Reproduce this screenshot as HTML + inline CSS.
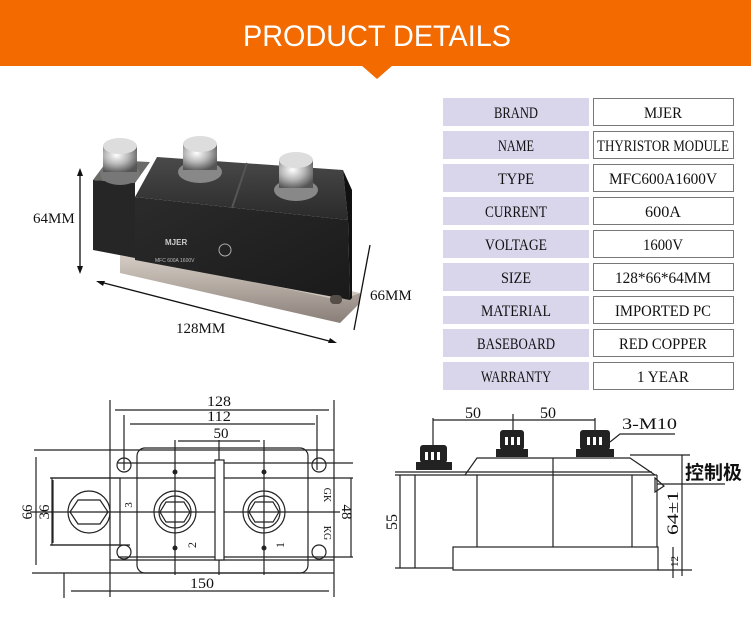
<!DOCTYPE html>
<html><head><meta charset="utf-8"><style>
html,body{margin:0;padding:0;background:#fff;}
svg{display:block}
</style></head><body>
<svg width="751" height="624" viewBox="0 0 751 624" xmlns="http://www.w3.org/2000/svg">
<defs>
<linearGradient id="top" x1="0" y1="0" x2="0" y2="1"><stop offset="0" stop-color="#4a4a4a"/><stop offset="1" stop-color="#2a2a2a"/></linearGradient>
<linearGradient id="front" x1="0" y1="0" x2="1" y2="1"><stop offset="0" stop-color="#2b2b2b"/><stop offset="1" stop-color="#1a1a1a"/></linearGradient>
<linearGradient id="base" x1="0" y1="0" x2="0" y2="1"><stop offset="0" stop-color="#d8d0c8"/><stop offset="1" stop-color="#8a7f78"/></linearGradient>
<radialGradient id="bolt" cx="0.4" cy="0.35" r="0.7"><stop offset="0" stop-color="#fff"/><stop offset="0.5" stop-color="#b8b8b8"/><stop offset="1" stop-color="#555"/></radialGradient>
</defs>
<rect x="0" y="0" width="751" height="66" fill="#F26A00"/>
<polygon points="361,65 393,65 377,79" fill="#F26A00"/>
<text x="377" y="46" font-family="Liberation Sans, sans-serif" font-size="30" fill="#fff" text-anchor="middle" textLength="268" lengthAdjust="spacingAndGlyphs">PRODUCT  DETAILS</text>

<g font-family="Liberation Serif, serif" font-size="16" fill="#111" text-anchor="middle">
<rect x="443" y="98" width="146" height="28" fill="#D9D6EC"/><rect x="593.5" y="98.5" width="140" height="27" fill="#fff" stroke="#777"/>
<text x="516" y="118" textLength="44" lengthAdjust="spacingAndGlyphs">BRAND</text><text x="663" y="118" textLength="38" lengthAdjust="spacingAndGlyphs">MJER</text>
<rect x="443" y="131" width="146" height="28" fill="#D9D6EC"/><rect x="593.5" y="131.5" width="140" height="27" fill="#fff" stroke="#777"/>
<text x="516" y="151" textLength="36" lengthAdjust="spacingAndGlyphs">NAME</text><text x="663" y="151" textLength="132" lengthAdjust="spacingAndGlyphs">THYRISTOR MODULE</text>
<rect x="443" y="164" width="146" height="28" fill="#D9D6EC"/><rect x="593.5" y="164.5" width="140" height="27" fill="#fff" stroke="#777"/>
<text x="516" y="184" textLength="36" lengthAdjust="spacingAndGlyphs">TYPE</text><text x="663" y="184" textLength="108" lengthAdjust="spacingAndGlyphs">MFC600A1600V</text>
<rect x="443" y="197" width="146" height="28" fill="#D9D6EC"/><rect x="593.5" y="197.5" width="140" height="27" fill="#fff" stroke="#777"/>
<text x="516" y="217" textLength="62" lengthAdjust="spacingAndGlyphs">CURRENT</text><text x="663" y="217" textLength="36" lengthAdjust="spacingAndGlyphs">600A</text>
<rect x="443" y="230" width="146" height="28" fill="#D9D6EC"/><rect x="593.5" y="230.5" width="140" height="27" fill="#fff" stroke="#777"/>
<text x="516" y="250" textLength="62" lengthAdjust="spacingAndGlyphs">VOLTAGE</text><text x="663" y="250" textLength="40" lengthAdjust="spacingAndGlyphs">1600V</text>
<rect x="443" y="263" width="146" height="28" fill="#D9D6EC"/><rect x="593.5" y="263.5" width="140" height="27" fill="#fff" stroke="#777"/>
<text x="516" y="283" textLength="30" lengthAdjust="spacingAndGlyphs">SIZE</text><text x="663" y="283" textLength="96" lengthAdjust="spacingAndGlyphs">128*66*64MM</text>
<rect x="443" y="296" width="146" height="28" fill="#D9D6EC"/><rect x="593.5" y="296.5" width="140" height="27" fill="#fff" stroke="#777"/>
<text x="516" y="316" textLength="70" lengthAdjust="spacingAndGlyphs">MATERIAL</text><text x="663" y="316" textLength="96" lengthAdjust="spacingAndGlyphs">IMPORTED PC</text>
<rect x="443" y="329" width="146" height="28" fill="#D9D6EC"/><rect x="593.5" y="329.5" width="140" height="27" fill="#fff" stroke="#777"/>
<text x="516" y="349" textLength="78" lengthAdjust="spacingAndGlyphs">BASEBOARD</text><text x="663" y="349" textLength="88" lengthAdjust="spacingAndGlyphs">RED COPPER</text>
<rect x="443" y="362" width="146" height="28" fill="#D9D6EC"/><rect x="593.5" y="362.5" width="140" height="27" fill="#fff" stroke="#777"/>
<text x="516" y="382" textLength="70" lengthAdjust="spacingAndGlyphs">WARRANTY</text><text x="663" y="382" textLength="52" lengthAdjust="spacingAndGlyphs">1 YEAR</text>
</g>

<g>
<polygon points="120,253 340,300 360,293 360,303 340,323 120,273" fill="url(#base)"/>
<polygon points="120,253 140,245 360,293 340,300" fill="#cfc6bd"/>
<polygon points="93,180 135,183 135,258 93,250" fill="#262626"/>
<polygon points="93,180 108,160 150,162 135,183" fill="#6a6a66"/>
<polygon points="135,197 157,157 343,170 348,220" fill="url(#top)"/>
<polygon points="135,197 348,220 350,300 135,260" fill="url(#front)"/>
<polygon points="348,220 343,170 352,190 352,298 350,300" fill="#111"/>
<line x1="247" y1="163" x2="232" y2="208" stroke="#555" stroke-width="2"/>
<rect x="330" y="295" width="12" height="9" rx="4" fill="#554d48"/>
<text x="165" y="245" font-family="Liberation Sans,sans-serif" font-size="8" font-weight="bold" fill="#ccc">MJER</text>
<text x="155" y="262" font-family="Liberation Sans,sans-serif" font-size="5" fill="#bbb">MFC 600A 1600V</text>
<circle cx="225" cy="250" r="6" fill="none" stroke="#aaa"/>
<ellipse cx="120" cy="174" rx="20" ry="11" fill="#777"/><rect x="103" y="146" width="34" height="26" fill="url(#bolt)"/><ellipse cx="120" cy="146" rx="17" ry="8" fill="#ddd"/>
<ellipse cx="200" cy="172" rx="22" ry="11" fill="#888"/><rect x="183" y="144" width="34" height="26" fill="url(#bolt)"/><ellipse cx="200" cy="144" rx="17" ry="8" fill="#ddd"/>
<ellipse cx="296" cy="190" rx="22" ry="11" fill="#888"/><rect x="279" y="160" width="34" height="28" fill="url(#bolt)"/><ellipse cx="296" cy="160" rx="17" ry="8" fill="#ddd"/>
</g>
<g stroke="#111" stroke-width="1.3" fill="#111">
<line x1="80" y1="172" x2="80" y2="270"/><polygon points="80,168 77,176 83,176" stroke="none"/><polygon points="80,274 77,266 83,266" stroke="none"/>
<line x1="100" y1="282" x2="333" y2="342"/><polygon points="96,281 105,281 103,286" stroke="none"/><polygon points="337,343 328,343 330,338" stroke="none"/>
<line x1="370" y1="245" x2="354" y2="330"/>
</g>
<g font-family="Liberation Serif, serif" font-size="15" fill="#111">
<text x="33" y="223">64MM</text>
<text x="370" y="300">66MM</text>
<text x="176" y="333">128MM</text>
</g>

<g stroke="#222" stroke-width="1.2" fill="none">
<line x1="110" y1="400" x2="110" y2="597"/><line x1="334" y1="400" x2="334" y2="597"/>
<line x1="124" y1="415" x2="124" y2="470"/><line x1="317" y1="415" x2="317" y2="470"/>
<line x1="115" y1="410" x2="329" y2="410"/><line x1="130" y1="424" x2="315" y2="424"/><line x1="178" y1="441" x2="260" y2="441"/>
<line x1="34" y1="450" x2="334" y2="450"/>
<line x1="32" y1="573" x2="334" y2="573"/>
<rect x="137" y="448" width="171" height="125" rx="8"/>
<line x1="118" y1="463" x2="353" y2="463"/><line x1="50" y1="478" x2="353" y2="478"/>
<line x1="50" y1="545" x2="130" y2="545"/><line x1="118" y1="557" x2="353" y2="557"/><line x1="110" y1="560" x2="334" y2="560"/>
<rect x="52" y="478" width="68" height="67"/>
<line x1="36" y1="457" x2="36" y2="565"/><line x1="53" y1="480" x2="53" y2="543"/><line x1="351" y1="478" x2="351" y2="557"/>
<line x1="30" y1="512" x2="340" y2="512"/>
<line x1="175" y1="440" x2="175" y2="575"/><line x1="264" y1="440" x2="264" y2="575"/><line x1="219" y1="440" x2="219" y2="575"/>
<line x1="71" y1="591" x2="329" y2="591"/><line x1="64" y1="573" x2="64" y2="598"/>
<circle cx="89" cy="512" r="21"/><polygon points="78,500 100,500 108,512 100,524 78,524 70,512"/>
<circle cx="175" cy="512" r="21"/><circle cx="175" cy="512" r="16"/><polygon points="166,502 184,502 190,512 184,522 166,522 160,512"/>
<circle cx="264" cy="512" r="21"/><circle cx="264" cy="512" r="16"/><polygon points="255,502 273,502 279,512 273,522 255,522 249,512"/>
<rect x="215" y="460" width="9" height="100" fill="#fff"/>
<circle cx="124" cy="465" r="7"/><circle cx="124" cy="552" r="7"/><circle cx="319" cy="465" r="7"/><circle cx="319" cy="552" r="7"/>
</g>
<g fill="#222"><circle cx="175" cy="472" r="2.5"/><circle cx="175" cy="548" r="2.5"/><circle cx="264" cy="472" r="2.5"/><circle cx="264" cy="548" r="2.5"/></g>
<g font-family="Liberation Serif, serif" font-size="15" fill="#111" text-anchor="middle">
<text x="219" y="406" textLength="24" lengthAdjust="spacingAndGlyphs">128</text>
<text x="219" y="421" textLength="24" lengthAdjust="spacingAndGlyphs">112</text>
<text x="221" y="438">50</text>
<text x="202" y="588" textLength="24" lengthAdjust="spacingAndGlyphs">150</text>
<text transform="translate(32,512) rotate(-90)">66</text>
<text transform="translate(49,512) rotate(-90)">36</text>
<text transform="translate(342,512) rotate(90)">48</text>
<text transform="translate(196,545) rotate(-90)" font-size="12">2</text>
<text transform="translate(284,545) rotate(-90)" font-size="12">1</text>
<text transform="translate(132,505) rotate(-90)" font-size="11">3</text>
<text transform="translate(324,495) rotate(90)" font-size="10">GK</text>
<text transform="translate(324,533) rotate(90)" font-size="10">KG</text>
</g>

<g stroke="#222" stroke-width="1.2" fill="none">
<line x1="433" y1="420" x2="595" y2="420"/>
<line x1="433" y1="418" x2="433" y2="445"/><line x1="513" y1="414" x2="513" y2="445"/><line x1="595" y1="418" x2="595" y2="445"/>
<polyline points="610,442 620,434 675,434"/>
<line x1="395" y1="472" x2="652" y2="472"/><line x1="395" y1="475" x2="657" y2="475"/>
<polyline points="465,475 477,458 630,458 655,475"/>
<line x1="415" y1="475" x2="415" y2="568"/><line x1="395" y1="568" x2="453" y2="568"/>
<line x1="477" y1="475" x2="477" y2="547"/><line x1="553" y1="458" x2="553" y2="547"/><line x1="632" y1="475" x2="632" y2="547"/>
<line x1="657" y1="475" x2="657" y2="547"/>
<rect x="453" y="547" width="205" height="23"/>
<line x1="400" y1="475" x2="400" y2="568"/>
<line x1="630" y1="455" x2="690" y2="455"/><line x1="658" y1="570" x2="692" y2="570"/>
<line x1="682" y1="455" x2="682" y2="576"/><line x1="673" y1="547" x2="673" y2="578"/>
<line x1="657" y1="484" x2="725" y2="484"/>
<polygon points="655,478 664,486 655,492"/>
</g>
<g fill="#222">
<rect x="420" y="445" width="27" height="18" rx="3"/><rect x="416" y="462" width="36" height="8"/>
<rect x="500" y="430" width="24" height="20" rx="3"/><rect x="496" y="449" width="32" height="8"/>
<rect x="580" y="430" width="30" height="20" rx="3"/><rect x="576" y="449" width="38" height="8"/>
</g>
<g fill="#fff"><rect x="425" y="452" width="3" height="8"/><rect x="431" y="452" width="3" height="8"/><rect x="437" y="452" width="3" height="8"/>
<rect x="505" y="437" width="3" height="8"/><rect x="511" y="437" width="3" height="8"/><rect x="517" y="437" width="3" height="8"/>
<rect x="587" y="437" width="3" height="8"/><rect x="593" y="437" width="3" height="8"/><rect x="599" y="437" width="3" height="8"/></g>
<g font-family="Liberation Serif, serif" font-size="16" fill="#111">
<text x="465" y="418">50</text><text x="540" y="418">50</text>
<text x="622" y="429" textLength="55" lengthAdjust="spacingAndGlyphs">3-M10</text>
<text transform="translate(397,530) rotate(-90)">55</text>
<text transform="translate(678,535) rotate(-90)" textLength="44" lengthAdjust="spacingAndGlyphs">64±1</text>
<text transform="translate(678,567) rotate(-90)" font-size="11">12</text>
<text x="685" y="479" font-family="Liberation Sans, 'Noto Sans CJK SC', sans-serif" font-size="19" font-weight="bold">控制极</text>
</g>
</svg>
</body></html>
